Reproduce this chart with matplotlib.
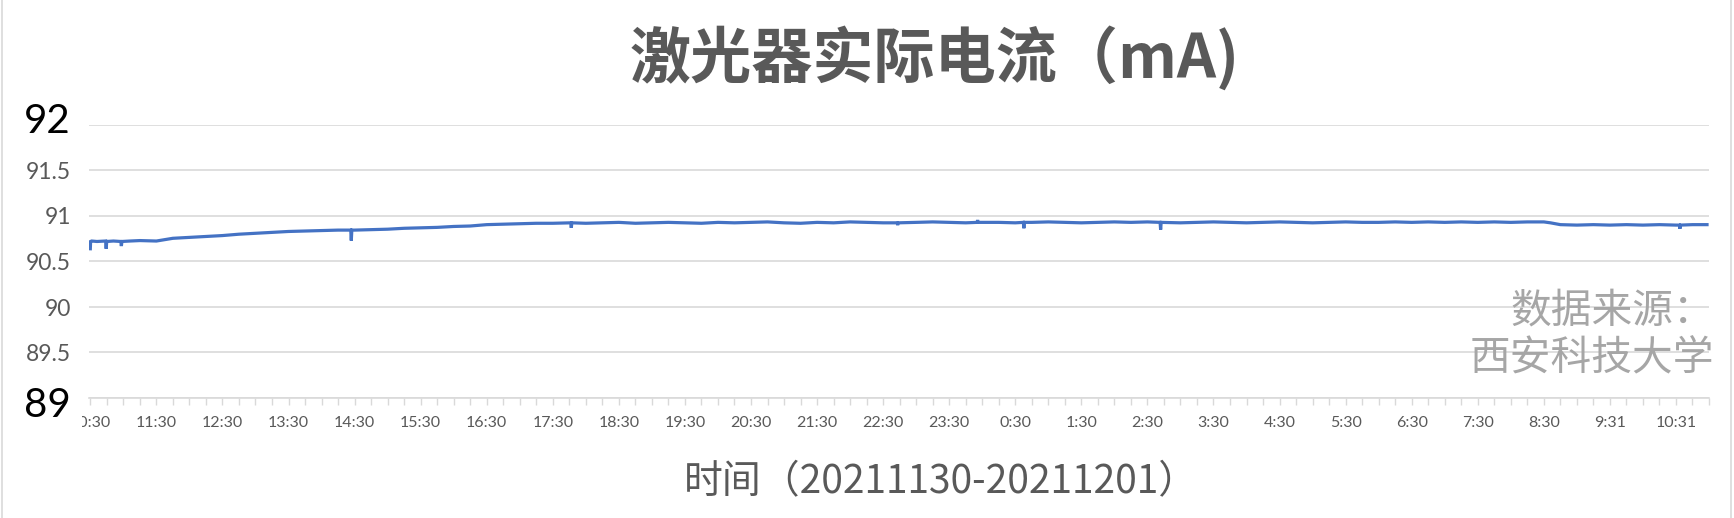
import matplotlib
matplotlib.use("Agg")
import matplotlib.pyplot as plt
from matplotlib.transforms import Bbox, offset_copy
from matplotlib.lines import Line2D

# laser current, hours counted from 10:30 on 2021-11-30
hours = [0.0, 0.004, 0.02, 0.10, 0.232, 0.24, 0.248, 0.35, 0.462, 0.47, 0.478,
         0.60, 0.75, 1.00, 1.25, 1.50, 1.75, 2.00, 2.25, 2.50, 2.75, 3.00,
         3.25, 3.50, 3.75, 3.942, 3.95, 3.958, 4.00, 4.25, 4.50, 4.75, 5.00,
         5.25, 5.50, 5.75, 6.00, 6.25, 6.50, 6.75, 7.00, 7.272, 7.28, 7.288,
         7.50, 7.75, 8.00, 8.25, 8.50, 8.75, 9.00, 9.25, 9.50, 9.75, 10.00,
         10.25, 10.50, 10.75, 11.00, 11.25, 11.50, 11.75, 12.00, 12.212, 12.22,
         12.228, 12.50, 12.75, 13.00, 13.25, 13.422, 13.43, 13.438, 13.75,
         14.00, 14.122, 14.13, 14.138, 14.25, 14.50, 14.75, 15.00, 15.25,
         15.50, 15.75, 16.00, 16.192, 16.20, 16.208, 16.50, 16.75, 17.00,
         17.25, 17.50, 17.75, 18.00, 18.25, 18.50, 18.75, 19.00, 19.25, 19.50,
         19.75, 20.00, 20.25, 20.50, 20.75, 21.00, 21.25, 21.50, 21.75, 22.00,
         22.10, 22.25, 22.50, 22.75, 23.00, 23.25, 23.50, 23.75, 24.00, 24.052,
         24.06, 24.068, 24.25, 24.47]
current = [90.64, 90.72, 90.725, 90.72, 90.725, 90.64, 90.72, 90.725, 90.72, 90.67, 90.72,
           90.725, 90.73, 90.725, 90.755, 90.765, 90.775, 90.785, 90.80, 90.81, 90.82, 90.83,
           90.835, 90.84, 90.845, 90.845, 90.73, 90.845, 90.845, 90.85, 90.855, 90.865, 90.87,
           90.875, 90.885, 90.89, 90.905, 90.91, 90.915, 90.92, 90.92, 90.925, 90.87, 90.925,
           90.92, 90.925, 90.93, 90.92, 90.925, 90.93, 90.925, 90.92, 90.93, 90.925, 90.93,
           90.935, 90.925, 90.92, 90.93, 90.925, 90.935, 90.93, 90.925, 90.925, 90.90,
           90.925, 90.93, 90.935, 90.93, 90.925, 90.93, 90.955, 90.93, 90.93,
           90.925, 90.93, 90.865, 90.93, 90.93, 90.935, 90.93, 90.925, 90.93,
           90.935, 90.93, 90.935, 90.93, 90.85, 90.93, 90.925, 90.93, 90.935,
           90.93, 90.925, 90.93, 90.935, 90.93, 90.925, 90.93, 90.935, 90.93, 90.93,
           90.935, 90.93, 90.935, 90.93, 90.935, 90.93, 90.935, 90.93, 90.935, 90.935,
           90.925, 90.905, 90.90, 90.905, 90.90, 90.905, 90.90, 90.905, 90.90, 90.90,
           90.86, 90.90, 90.905, 90.905]

tick_hours = list(range(25))
tick_labels = ["10:30", "11:30", "12:30", "13:30", "14:30", "15:30", "16:30",
               "17:30", "18:30", "19:30", "20:30", "21:30", "22:30", "23:30",
               "0:30", "1:30", "2:30", "3:30", "4:30", "5:30", "6:30", "7:30",
               "8:30", "9:31", "10:31"]
minor_hours = [q / 4 for q in range(0, 99)]
y_ticks = [89, 89.5, 90, 90.5, 91, 91.5, 92]
y_labels = ["89", "89.5", "90", "90.5", "91", "91.5", "92"]

title = "激光器实际电流（mA)"
xlabel = "时间（20211130-20211201）"
source = "数据来源：\n西安科技大学"

CJK = ["Noto Sans CJK SC", "DejaVu Sans"]
GREY = "#595959"
GRID = "#d9d9d9"

W, H = 1734, 518
fig = plt.figure(figsize=(W / 100, H / 100), dpi=100)
fig.patch.set_facecolor("white")
# chart border, only the sides show
for xb in (2 / W, 1731 / W):
    fig.add_artist(Line2D([xb, xb], [0, 1], transform=fig.transFigure,
                          color=GRID, lw=1.2))

ax = fig.add_axes([89 / W, 1 - 398 / H, (1709 - 89) / W, (398 - 125) / H])
ax.plot(hours, current, color="#4472C4", lw=2.3, solid_joinstyle="miter", zorder=3)

ax.set_xlim(-0.02, 24.5)
ax.set_ylim(89, 92)

for s in ["top", "right", "left"]:
    ax.spines[s].set_visible(False)
ax.spines["bottom"].set_color(GRID)
ax.spines["bottom"].set_linewidth(1.2)

ax.set_yticks(y_ticks)
ax.set_yticklabels(y_labels, family="Lato", fontsize=16.5, color=GREY)
ax.tick_params(axis="y", length=0, pad=13)
ax.yaxis.grid(True, color=GRID, lw=1.2)
ax.set_axisbelow(True)
for lab in ax.get_yticklabels():
    if lab.get_text() == "92":
        lab.set_fontsize(29)
        lab.set_color("black")
        lab.set_transform(offset_copy(lab.get_transform(), fig=fig, y=5, units="points"))
    elif lab.get_text() == "89":
        lab.set_fontsize(29)
        lab.set_color("black")
        lab.set_transform(offset_copy(lab.get_transform(), fig=fig, y=-3, units="points"))

ax.set_xticks(tick_hours)
ax.set_xticklabels(tick_labels, family="Lato", fontsize=11.5, color=GREY)
ax.set_xticks(minor_hours, minor=True)
ax.tick_params(axis="x", which="both", length=5, width=1, color=GRID,
               direction="out", pad=8)
first = ax.get_xticklabels()[0]
first.set_clip_box(Bbox.from_extents(82, 0, W, H))
first.set_clip_on(True)

fig.text(935 / W, 1 - 58 / H, title, ha="center", va="center", fontsize=44,
         weight="bold", color=GREY, family=CJK)
fig.text(941 / W, 1 - 482 / H, xlabel, ha="center", va="center", fontsize=28,
         color=GREY, family=CJK)
fig.text(1714 / W, 1 - 335 / H, source, ha="right", va="center", fontsize=29.3,
         color="#a6a6a6", family=CJK, linespacing=1.22, multialignment="right")

fig.savefig("out.png", dpi=100)
